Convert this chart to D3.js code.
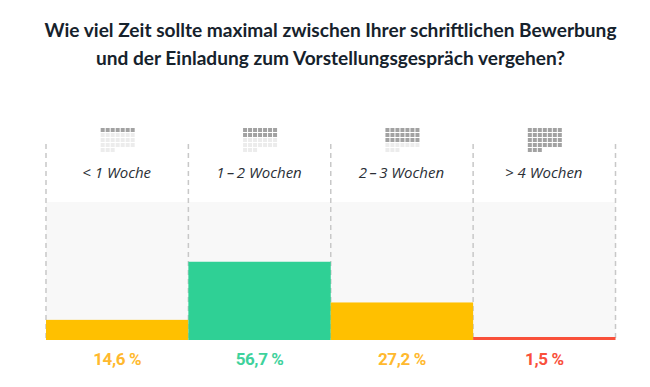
<!DOCTYPE html>
<html lang="de">
<head>
  <meta charset="UTF-8">
  <title>Bewerbung</title>
  <script src="https://d3js.org/d3.v7.min.js"></script>
  <style>
    html, body { margin: 0; background: #fff; }
    svg { display: block; }
  </style>
</head>
<body>
<script>
  const titleLines = [
    'Wie viel Zeit sollte maximal zwischen Ihrer schriftlichen Bewerbung',
    'und der Einladung zum Vorstellungsgespräch vergehen?'
  ]
  const categories = ['< 1 Woche', '1\u2009–\u20092 Wochen', '2\u2009–\u20093 Wochen', '> 4 Wochen']
  const values = [14.6, 56.7, 27.2, 1.5]
  const valueLabels = ['14,6 %', '56,7 %', '27,2 %', '1,5 %']
  const colors = ['#ffc000', '#2fd095', '#ffc000', '#f9503a']
  const labelColors = ['#ffb92e', '#3fd29c', '#ffb92e', '#f9503a']
  const activeDays = [7, 14, 21, 31]
  const daysInMonth = 31

  const width = 650
  const height = 387
  const plotTop = 202
  const plotBottom = 340

  const x = d3.scaleBand().domain(categories).range([46, 615.5])
  const y = d3.scaleLinear().domain([0, 100]).range([plotBottom, plotTop])

  const svg = d3.select('body').append('svg')
    .attr('width', width)
    .attr('height', height)

  svg.append('g')
    .attr('font-family', 'Lato, sans-serif')
    .attr('font-size', 19.1)
    .attr('font-weight', 700)
    .attr('fill', '#16222c')
    .attr('text-anchor', 'middle')
    .selectAll('text')
    .data(titleLines)
    .join('text')
    .attr('x', 330.5)
    .attr('y', (d, i) => 36.5 + i * 28)
    .text(d => d)

  // grey plot background
  svg.append('rect')
    .attr('x', x.range()[0])
    .attr('y', plotTop)
    .attr('width', x.range()[1] - x.range()[0])
    .attr('height', plotBottom - plotTop)
    .attr('fill', '#f8f8f8')

  // dashed separators
  svg.append('g')
    .attr('stroke', '#c8c8c8')
    .attr('stroke-width', 1.5)
    .attr('stroke-dasharray', '5 4')
    .selectAll('line')
    .data([...categories.map(d => x(d)), x.range()[1]])
    .join('line')
    .attr('x1', d => d)
    .attr('x2', d => d)
    .attr('y1', 144)
    .attr('y2', plotBottom)

  // smallest bar still shows as a 3px line
  svg.append('g')
    .selectAll('rect')
    .data(categories)
    .join('rect')
    .attr('x', d => x(d))
    .attr('width', x.bandwidth())
    .attr('y', (d, i) => y(0) - Math.max(3, y(0) - y(values[i])))
    .attr('height', (d, i) => Math.max(3, y(0) - y(values[i])))
    .attr('fill', (d, i) => colors[i])

  // little calendars, one square per day
  const calendars = svg.append('g')
    .selectAll('g')
    .data(categories)
    .join('g')
    .attr('transform', d => `translate(${x(d) + x.bandwidth() / 2 - 16.5},128)`)

  calendars.selectAll('rect')
    .data((d, i) => d3.range(daysInMonth).map(day => day < activeDays[i]))
    .join('rect')
    .attr('x', (d, i) => (i % 7) * 5)
    .attr('y', (d, i) => Math.floor(i / 7) * 5)
    .attr('width', 4)
    .attr('height', 4)
    .attr('fill', d => d ? '#a2a2a2' : '#ececec')

  svg.append('g')
    .attr('font-family', '"Open Sans", sans-serif')
    .attr('font-size', 15)
    .attr('font-style', 'italic')
    .attr('fill', '#2b2f36')
    .attr('text-anchor', 'middle')
    .selectAll('text')
    .data(categories)
    .join('text')
    .attr('x', d => x(d) + x.bandwidth() / 2 - 0.5)
    .attr('y', 178)
    .text(d => d)

  svg.append('g')
    .attr('font-family', 'Roboto, sans-serif')
    .attr('font-size', 17)
    .attr('font-weight', 700)
    .attr('letter-spacing', -0.4)
    .attr('text-anchor', 'middle')
    .selectAll('text')
    .data(categories)
    .join('text')
    .attr('x', d => x(d) + x.bandwidth() / 2)
    .attr('y', 365)
    .attr('fill', (d, i) => labelColors[i])
    .text((d, i) => valueLabels[i])
</script>
</body>
</html>
